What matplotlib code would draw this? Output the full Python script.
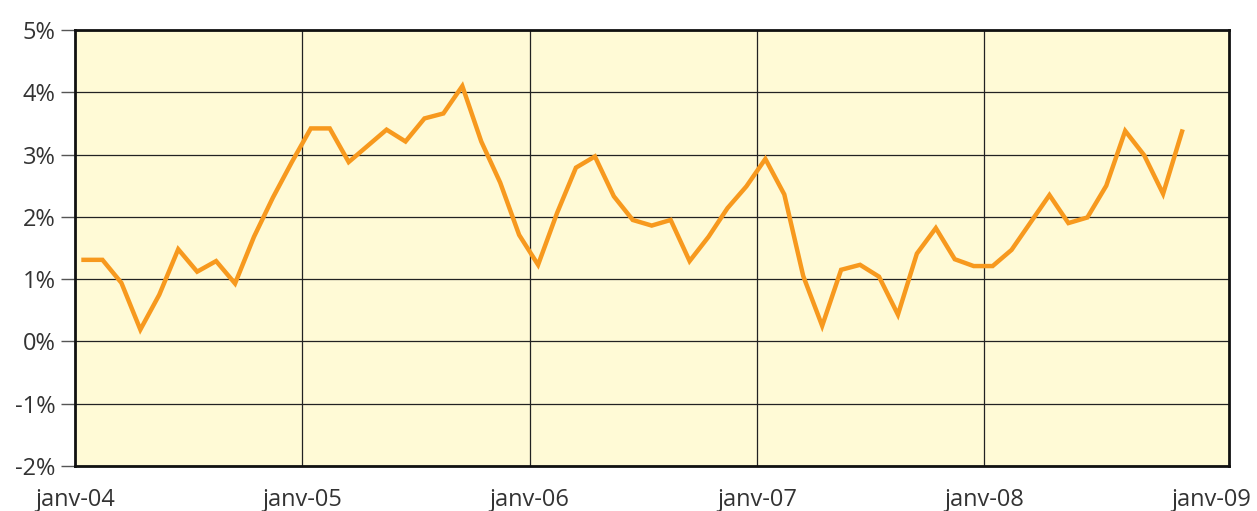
import matplotlib
matplotlib.use("Agg")
import matplotlib.pyplot as plt
import numpy as np

# Monthly values, janv-04 .. nov-08 (%)
values = [1.31, 1.31, 0.94, 0.19, 0.75, 1.48, 1.12, 1.29, 0.93, 1.68, 2.31, 2.88,
          3.42, 3.42, 2.88, 3.14, 3.40, 3.21, 3.58, 3.66, 4.10, 3.21, 2.55, 1.71,
          1.23, 2.06, 2.79, 2.97, 2.33, 1.95, 1.86, 1.95, 1.29, 1.68, 2.14, 2.49,
          2.93, 2.36, 1.05, 0.25, 1.15, 1.23, 1.04, 0.43, 1.41, 1.82, 1.32, 1.21,
          1.21, 1.47, 1.91, 2.35, 1.90, 1.99, 2.50, 3.38, 2.99, 2.37, 3.37]
year_labels = ["janv-04", "janv-05", "janv-06", "janv-07", "janv-08", "janv-09"]
y_ticks = [-2, -1, 0, 1, 2, 3, 4, 5]

plt.rcParams['font.family'] = ['Open Sans', 'DejaVu Sans']

fig = plt.figure(figsize=(12.57, 5.11), dpi=100)
ax = fig.add_axes([75/1257, 45/511, (1229-75)/1257, (466-30)/511])
ax.set_facecolor('#FFFAD6')

months = np.arange(len(values)) + 0.45
ax.plot(months, values, color='#F7991E', lw=3.2, solid_joinstyle='miter', zorder=3)

ax.set_xlim(0, 60.93)
ax.set_ylim(-2, 5)
ax.set_yticks(y_ticks)
ax.set_yticklabels([f"{v}%" for v in y_ticks])
year_pos = [12 * i for i in range(len(year_labels))]
ax.set_xticks(year_pos)
ax.set_xticklabels(year_labels)

ax.grid(axis='y', color='#222222', lw=0.9, zorder=1)
for xp in year_pos[1:-1]:
    ax.axvline(xp, color='#222222', lw=0.9, zorder=1)

for s in ax.spines.values():
    s.set_linewidth(2)
    s.set_color('#111111')

ax.tick_params(axis='y', length=10, width=1, color='#555555', pad=4,
               labelsize=17, labelcolor='#333333')
ax.tick_params(axis='x', length=0, pad=16, labelsize=17, labelcolor='#333333')

fig.savefig('out.png', dpi=100, facecolor='white')
